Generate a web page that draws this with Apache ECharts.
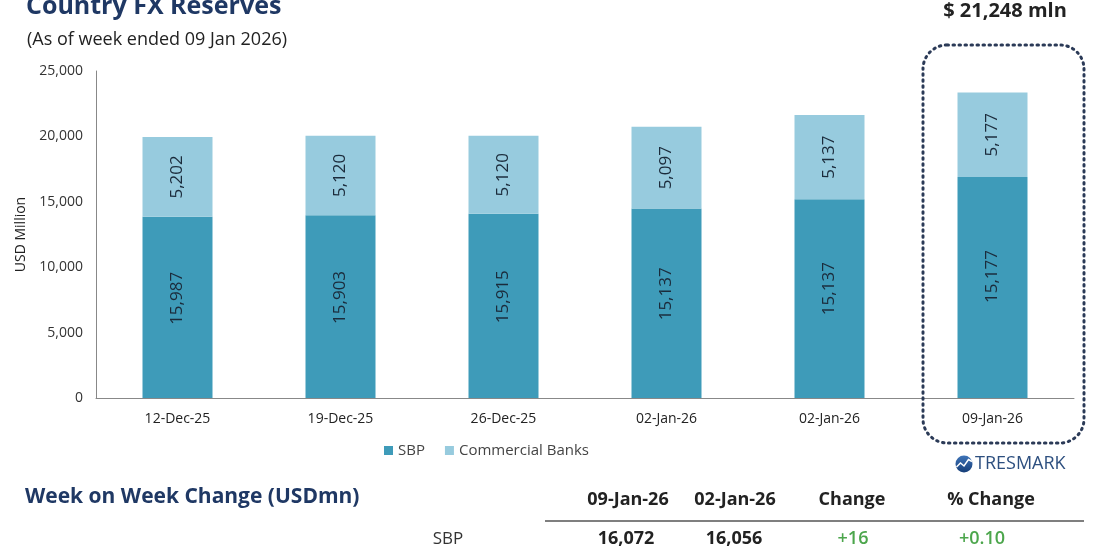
<!DOCTYPE html>
<html>
<head>
<meta charset="utf-8">
<script src="https://cdn.jsdelivr.net/npm/echarts@6/dist/echarts.min.js"></script>
<style>
  html, body { margin: 0; padding: 0; background: #ffffff; }
  #chart { width: 1110px; height: 550px; }
</style>
</head>
<body>
<div id="chart"></div>
<script>
// ---- Data ----
const categories = ['12-Dec-25', '19-Dec-25', '26-Dec-25', '02-Jan-26', '02-Jan-26', '09-Jan-26'];
// Bar heights as drawn in the picture (USD million)
const sbpValues = [13850, 13980, 14080, 14480, 15200, 16890];
const cbValues  = [6100, 6070, 5970, 6250, 6430, 6470];
// Labels printed on the bars
const sbpLabels = ['15,987', '15,903', '15,915', '15,137', '15,137', '15,177'];
const cbLabels  = ['5,202', '5,120', '5,120', '5,097', '5,137', '5,177'];
const seriesNames = ['SBP', 'Commercial Banks'];
const yMax = 25000;
const yStep = 5000;

const titleText = 'Country FX Reserves';
const subtitleText = '(As of week ended 09 Jan 2026)';
const totalText = '$ 21,248 mln';
const tableTitle = 'Week on Week Change (USDmn)';
const tableHeaders = ['09-Jan-26', '02-Jan-26', 'Change', '% Change'];
const tableRowName = 'SBP';
const tableRow = ['16,072', '16,056', '+16', '+0.10'];

// ---- Styles ----
const FONT = '"Open Sans", "Noto Sans", sans-serif';
const NAVY = '#1f3864';
const SBP_COLOR = '#3e9bb9';
const CB_COLOR = '#97cbde';
const LABEL_COLOR = '#1b2b3b';

const chart = echarts.init(document.getElementById('chart'));

const headerX = [628, 735, 852, 991];
const rowX = [626, 734, 853, 982];

const graphics = [
  { type: 'text', x: 26, y: 7, style: { text: titleText, fill: NAVY, fontSize: 25, fontWeight: 'bold', fontFamily: FONT, align: 'left', verticalAlign: 'middle' } },
  { type: 'text', x: 27, y: 40, style: { text: subtitleText, fill: '#222', fontSize: 18, fontFamily: FONT, align: 'left', verticalAlign: 'middle' } },
  { type: 'text', x: 1005, y: 11, style: { text: totalText, fill: '#222', fontSize: 20, fontWeight: 'bold', fontFamily: FONT, align: 'center', verticalAlign: 'middle' } },
  { type: 'rect', z: 10, shape: { x: 923, y: 45, width: 161, height: 398, r: 24 },
    style: { fill: 'transparent', stroke: '#2b3a57', lineWidth: 3, lineDash: [1.5, 4.5], lineCap: 'round' } },
  // logo
  { type: 'circle', shape: { cx: 964, cy: 464, r: 8.5 },
    style: { fill: new echarts.graphic.LinearGradient(0, 0, 0, 1, [{ offset: 0, color: '#3f74b8' }, { offset: 1, color: '#163e78' }]) } },
  { type: 'polyline', shape: { points: [[956.5, 467], [960.5, 463], [964, 466], [968.5, 459.5], [972, 461.5]] },
    style: { stroke: '#ffffff', lineWidth: 1.5, fill: null } },
  { type: 'text', x: 975, y: 464, style: { text: 'TRESMARK', fill: '#2d4f7f', fontSize: 18, fontFamily: FONT, align: 'left', verticalAlign: 'middle' } },
  // table
  { type: 'text', x: 25, y: 497, style: { text: tableTitle, fill: NAVY, fontSize: 21, fontWeight: 'bold', fontFamily: FONT, align: 'left', verticalAlign: 'middle' } },
  { type: 'line', shape: { x1: 545, y1: 521, x2: 1084, y2: 521 }, style: { stroke: '#555', lineWidth: 1.5 } },
  { type: 'text', x: 448, y: 539, style: { text: tableRowName, fill: '#333', fontSize: 17, fontFamily: FONT, align: 'center', verticalAlign: 'middle' } }
];
tableHeaders.forEach((h, i) => {
  graphics.push({ type: 'text', x: headerX[i], y: 500, style: { text: h, fill: '#222', fontSize: 18, fontWeight: 'bold', fontFamily: FONT, align: 'center', verticalAlign: 'middle' } });
});
tableRow.forEach((v, i) => {
  graphics.push({ type: 'text', x: rowX[i], y: 539, style: { text: v, fill: i >= 2 ? '#4ca64c' : '#222', fontSize: 18, fontWeight: i >= 2 ? 600 : 'bold', fontFamily: FONT, align: 'center', verticalAlign: 'middle' } });
});

const option = {
  backgroundColor: '#ffffff',
  animation: false,
  textStyle: { fontFamily: FONT },
  grid: { left: 96, right: 36, top: 71, bottom: 152, containLabel: false },
  legend: {
    data: seriesNames,
    left: 379, top: 438,
    icon: 'rect', itemWidth: 9, itemHeight: 9, itemGap: 20,
    textStyle: { fontSize: 15, color: '#444', fontFamily: FONT }
  },
  xAxis: {
    type: 'category',
    data: categories,
    axisLine: { lineStyle: { color: '#888', width: 1 } },
    axisTick: { show: false },
    axisLabel: { color: '#222', fontSize: 14, margin: 14, fontFamily: FONT }
  },
  yAxis: {
    type: 'value',
    min: 0, max: yMax, interval: yStep,
    name: 'USD Million',
    nameLocation: 'middle',
    nameGap: 68,
    nameTextStyle: { color: '#222', fontSize: 14, fontFamily: FONT },
    axisLine: { show: true, lineStyle: { color: '#888', width: 1 } },
    axisTick: { show: false },
    splitLine: { show: false },
    axisLabel: { color: '#333', fontSize: 14, margin: 13, fontFamily: FONT,
      formatter: v => v.toLocaleString('en-US') }
  },
  series: [
    {
      name: seriesNames[0], type: 'bar', stack: 'total', barWidth: 70,
      data: sbpValues,
      itemStyle: { color: SBP_COLOR },
      label: { show: true, position: ['50%', '45%'], rotate: 90, align: 'center', verticalAlign: 'middle',
        color: LABEL_COLOR, fontSize: 17, fontFamily: FONT,
        formatter: p => sbpLabels[p.dataIndex] }
    },
    {
      name: seriesNames[1], type: 'bar', stack: 'total', barWidth: 70,
      data: cbValues,
      itemStyle: { color: CB_COLOR },
      label: { show: true, position: 'inside', rotate: 90, align: 'center', verticalAlign: 'middle',
        color: LABEL_COLOR, fontSize: 17, fontFamily: FONT,
        formatter: p => cbLabels[p.dataIndex] }
    }
  ],
  graphic: graphics
};
chart.setOption(option);
</script>
</body>
</html>
